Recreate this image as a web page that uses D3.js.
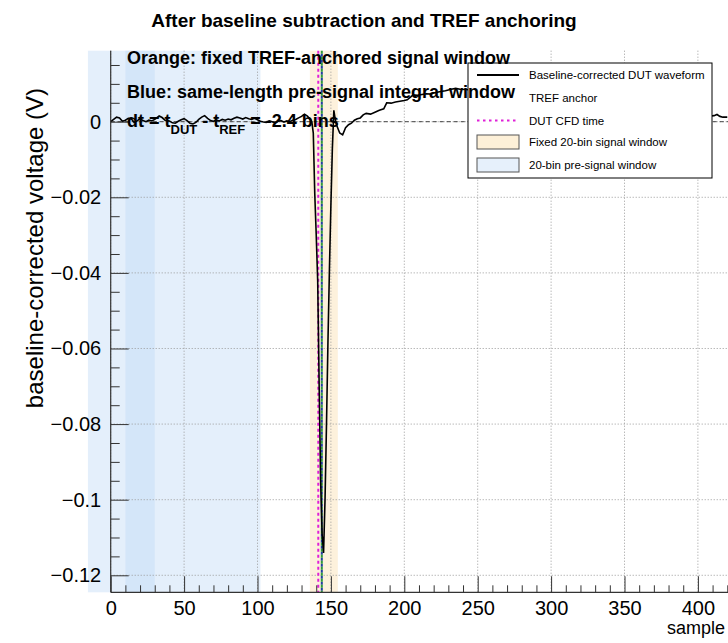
<!DOCTYPE html>
<html><head><meta charset="utf-8">
<script src="https://cdn.jsdelivr.net/npm/d3@7"></script>
<style>
body{margin:0;background:#fff}
svg{display:block}
text{font-family:"Liberation Sans",Arial,Helvetica,sans-serif;fill:#000}
</style>
</head><body>
<svg id="c" width="728" height="643"></svg>
<script>
// ---------- data ----------
const xTicks = [0, 50, 100, 150, 200, 250, 300, 350, 400];
const xTickLabels = ["0", "50", "100", "150", "200", "250", "300", "350", "400"];
const yTicks = [0, -0.02, -0.04, -0.06, -0.08, -0.1, -0.12];
const yTickLabels = ["0", "\u22120.02", "\u22120.04", "\u22120.06", "\u22120.08", "\u22120.1", "\u22120.12"];

const sampleX = [0,2,4,6,8,10,12,14,16,18,20,22,24,26,28,30,33,35,37,40,42,44,46,48,50,52,54,56,58,60,62,64,66,68,70,72,74,76,78,80,82,84,86,88,90,92,94,96,98,100,102,104,106,108,110,112,114,116,118,120,122,124,126,128,130,132,134,136,137,138,139,140,141,142,143,144,145,146,147,148,149,150,151,152,153,154,156,158,160,162,164,166,168,170,172,174,177,180,183,186,188,191,194,197,200,202,204,206,209,212,215,218,220,224,228,232,235,238,242,250,260,270,280,290,300,310,320,330,340,350,360,370,380,390,400,405,409,411,413,415,417,420];
const voltage = [0.0000,0.0006,0.0012,0.0010,0.0001,0.0004,0.0009,0.0008,-0.0002,0.0002,0.0008,0.0003,0.0000,0.0004,0.0002,0.0006,0.0015,0.0011,0.0004,0.0002,-0.0003,-0.0004,0.0001,0.0005,0.0008,0.0003,-0.0004,-0.0006,-0.0002,0.0006,0.0012,0.0016,0.0009,0.0003,0.0001,0.0004,0.0002,0.0006,0.0004,0.0007,0.0005,0.0009,0.0012,0.0010,0.0007,0.0011,0.0008,0.0006,0.0009,0.0005,0.0001,-0.0001,-0.0002,0.0002,0.0000,-0.0003,0.0001,0.0003,-0.0001,0.0002,0.0000,0.0004,0.0006,0.0010,0.0014,0.0020,0.0015,0.0006,0.0000,-0.0030,-0.0190,-0.0300,-0.0420,-0.0700,-0.0950,-0.1090,-0.1141,-0.1000,-0.0800,-0.0580,-0.0390,-0.0220,-0.0070,0.0030,0.0005,-0.0010,-0.0030,-0.0035,-0.0016,-0.0008,-0.0004,0.0004,0.0008,0.0010,0.0018,0.0022,0.0020,0.0025,0.0030,0.0034,0.0050,0.0049,0.0052,0.0054,0.0056,0.0058,0.0064,0.0071,0.0070,0.0072,0.0074,0.0073,0.0076,0.0079,0.0082,0.0086,0.0088,0.0086,0.0085,0.0082,0.0078,0.0072,0.0068,0.0061,0.0055,0.0050,0.0044,0.0040,0.0034,0.0030,0.0027,0.0024,0.0022,0.0020,0.0018,0.0016,0.0015,0.0016,0.0019,0.0014,0.0012,0.0012];

const preRegion = [-15.5, 102];      // wide light-blue band
const preWindow = [10, 30];          // 20-bin pre-signal window
const signalWindow = [135.7, 154.7]; // fixed 20-bin signal window
const tDUT = 141.4;
const tREF = 143.8;

const titleText = "After baseline subtraction and TREF anchoring";
const xTitle = "sample";
const yTitle = "baseline-corrected voltage (V)";
const noteLines = ["Orange: fixed TREF-anchored signal window", "Blue: same-length pre-signal integral window"];
const legendLabels = ["Baseline-corrected DUT waveform", "TREF anchor", "DUT CFD time", "Fixed 20-bin signal window", "20-bin pre-signal window"];

// ---------- layout ----------
const svg = d3.select("#c");
const F = {left: 110.7, right: 728, top: 50.7, bottom: 592.3};
const x = d3.scaleLinear().domain([0, 420.5]).range([F.left, F.right]);
const y = d3.scaleLinear().domain([-0.1245, 0.01878]).range([F.bottom, F.top]);

const blueFill = "rgba(190,218,245,0.42)";
const orangeFill = "rgba(252,228,185,0.5)";

// shaded regions (drawn like ROOT boxes, not clipped)
svg.append("rect").attr("x", x(preRegion[0])).attr("y", F.top)
  .attr("width", x(preRegion[1]) - x(preRegion[0])).attr("height", F.bottom - F.top)
  .attr("fill", blueFill);
svg.append("rect").attr("x", x(preWindow[0])).attr("y", F.top)
  .attr("width", x(preWindow[1]) - x(preWindow[0])).attr("height", F.bottom - F.top)
  .attr("fill", blueFill);
svg.append("rect").attr("x", x(signalWindow[0])).attr("y", F.top)
  .attr("width", x(signalWindow[1]) - x(signalWindow[0])).attr("height", F.bottom - F.top)
  .attr("fill", orangeFill);

// grid
const grid = svg.append("g").attr("stroke", "#9a9a9a").attr("stroke-width", 1).attr("stroke-dasharray", "1,2");
xTicks.forEach(t => grid.append("line").attr("x1", x(t)).attr("x2", x(t)).attr("y1", F.top).attr("y2", F.bottom));
yTicks.forEach(t => grid.append("line").attr("x1", F.left).attr("x2", F.right).attr("y1", y(t)).attr("y2", y(t)));

// baseline dashed line at 0
svg.append("line").attr("x1", F.left).attr("x2", F.right).attr("y1", y(0)).attr("y2", y(0))
  .attr("stroke", "#444").attr("stroke-width", 1).attr("stroke-dasharray", "4,3");

// vertical marker lines
svg.append("line").attr("x1", x(tREF)).attr("x2", x(tREF)).attr("y1", F.top).attr("y2", F.bottom)
  .attr("stroke", "#1f3fa0").attr("stroke-width", 2).attr("stroke-dasharray", "3,3").attr("stroke-dashoffset", 3);
svg.append("line").attr("x1", x(tREF)).attr("x2", x(tREF)).attr("y1", F.top).attr("y2", F.bottom)
  .attr("stroke", "#2e9a3a").attr("stroke-width", 2).attr("stroke-dasharray", "3,3");
svg.append("line").attr("x1", x(tDUT)).attr("x2", x(tDUT)).attr("y1", F.top).attr("y2", F.bottom)
  .attr("stroke", "#e020d8").attr("stroke-width", 2).attr("stroke-dasharray", "3,3");

// waveform
const pts = sampleX.map((s, i) => [s, voltage[i]]);
svg.append("path").datum(pts)
  .attr("d", d3.line().x(d => x(d[0])).y(d => y(d[1])).curve(d3.curveLinear))
  .attr("fill", "none").attr("stroke", "#000").attr("stroke-width", 1.6);

// axes (ROOT style: ticks pointing inwards)
const xAxis = svg.append("g").attr("transform", `translate(0,${F.bottom})`)
  .call(d3.axisBottom(x).tickValues(xTicks).tickFormat((d, i) => xTickLabels[i]).tickSize(-16).tickPadding(9));
const xMinor = d3.range(10, 421, 10).filter(v => v % 50 !== 0);
svg.append("g").attr("transform", `translate(0,${F.bottom})`)
  .call(d3.axisBottom(x).tickValues(xMinor).tickFormat("").tickSize(-7))
  .call(g => g.select(".domain").remove());
const yAxis = svg.append("g").attr("transform", `translate(${F.left},0)`)
  .call(d3.axisLeft(y).tickValues(yTicks).tickFormat((d, i) => yTickLabels[i]).tickSize(-18).tickPadding(9.5));
const yMinor = d3.range(-0.12, 0.0186, 0.005).filter(v => Math.abs(Math.round(v * 1000) % 20) !== 0);
svg.append("g").attr("transform", `translate(${F.left},0)`)
  .call(d3.axisLeft(y).tickValues(yMinor).tickFormat("").tickSize(-9))
  .call(g => g.select(".domain").remove());
svg.selectAll(".domain").attr("stroke", "#333").attr("stroke-width", 1.2);
svg.selectAll(".tick line").attr("stroke", "#333");
xAxis.selectAll(".tick text").attr("font-size", 20).attr("fill", "#000");
yAxis.selectAll(".tick text").attr("font-size", 20).attr("fill", "#000");
xAxis.selectAll(".domain").attr("d", `M${F.left},0H${F.right}`);
yAxis.selectAll(".domain").attr("d", `M0,${F.bottom}V${F.top}`);

// titles
svg.append("text").attr("x", 364).attr("y", 27).attr("text-anchor", "middle")
  .attr("font-size", 19).attr("font-weight", "bold").text(titleText);
svg.append("text").attr("x", 725).attr("y", 634).attr("text-anchor", "end").attr("font-size", 18).text(xTitle);
svg.append("text").attr("transform", "translate(43,88) rotate(-90)").attr("text-anchor", "end")
  .attr("font-size", 24).text(yTitle);

// legend (opaque box)
const L = {x: 468, y: 63, w: 244, h: 115};
const lg = svg.append("g");
lg.append("rect").attr("x", L.x).attr("y", L.y).attr("width", L.w).attr("height", L.h)
  .attr("fill", "#fff").attr("stroke", "#000").attr("stroke-width", 1);
const rowY = [75, 97.5, 120.5, 142, 165];
const sx0 = 477, sx1 = 519, tx = 529;
lg.append("line").attr("x1", sx0).attr("x2", sx1).attr("y1", rowY[0]).attr("y2", rowY[0]).attr("stroke", "#000").attr("stroke-width", 2);
lg.append("line").attr("x1", sx0).attr("x2", sx1).attr("y1", rowY[2]).attr("y2", rowY[2]).attr("stroke", "#e020d8").attr("stroke-width", 2).attr("stroke-dasharray", "2.5,3.5");
lg.append("rect").attr("x", sx0).attr("y", rowY[3] - 7).attr("width", sx1 - sx0).attr("height", 14)
  .attr("fill", "#fdf0d8").attr("stroke", "#555").attr("stroke-width", 1);
lg.append("rect").attr("x", sx0).attr("y", rowY[4] - 7).attr("width", sx1 - sx0).attr("height", 14)
  .attr("fill", "#e6f0fb").attr("stroke", "#555").attr("stroke-width", 1);
legendLabels.forEach((t, i) => lg.append("text").attr("x", tx).attr("y", rowY[i] + 4).attr("font-size", 11.5).attr("fill", "#222").text(t));

// notes (bold latex), drawn on top of the legend
svg.append("text").attr("x", 127).attr("y", 64).attr("font-size", 18).attr("font-weight", "bold").text(noteLines[0]);
svg.append("text").attr("x", 127).attr("y", 98).attr("font-size", 18).attr("font-weight", "bold").text(noteLines[1]);
const dt = svg.append("text").attr("x", 127).attr("y", 127).attr("font-size", 18).attr("font-weight", "bold");
dt.append("tspan").text("dt = t");
dt.append("tspan").attr("font-size", 13).attr("dy", 7).text("DUT");
dt.append("tspan").attr("dy", -7).text(" - t");
dt.append("tspan").attr("font-size", 13).attr("dy", 7).text("REF");
dt.append("tspan").attr("dy", -7).text(" = -2.4 bins");
</script>
</body></html>
